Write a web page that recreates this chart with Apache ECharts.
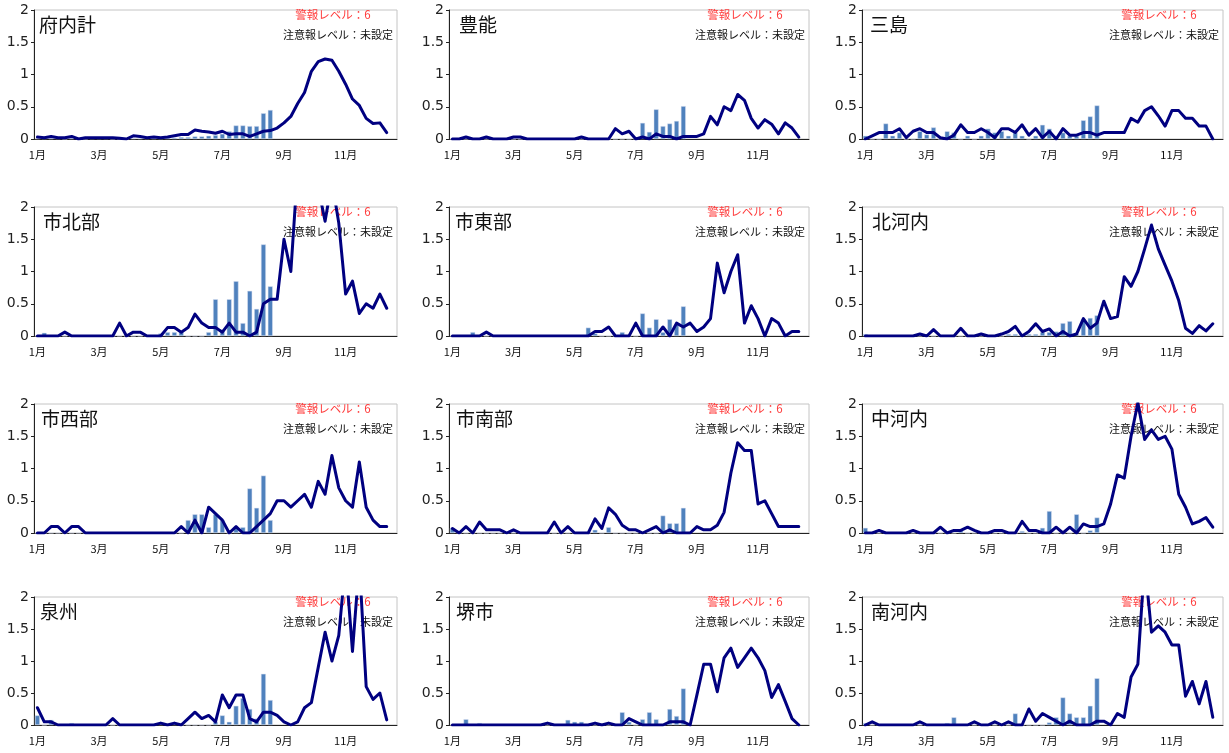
<!DOCTYPE html>
<html><head><meta charset="utf-8">
<script src="https://cdn.jsdelivr.net/npm/echarts@6/dist/echarts.min.js"></script>
<style>html,body{margin:0;padding:0;background:#fff}#c{width:1229px;height:753px}</style>
</head><body><div id="c"></div>
<script>
// ---- categories / tick labels ----
const weeks = ['1','2','3','4','5','6','7','8','9','10','11','12','13','14','15','16','17','18','19','20','21','22','23','24','25','26','27','28','29','30','31','32','33','34','35','36','37','38','39','40','41','42','43','44','45','46','47','48','49','50','51','52','53'];
const monthTickIndex = [0, 9, 18, 27, 36, 45];
const monthTickLabels = ['1月', '3月', '5月', '7月', '9月', '11月'];
const regionNames = ['府内計', '豊能', '三島', '市北部', '市東部', '北河内', '市西部', '市南部', '中河内', '泉州', '堺市', '南河内'];
const alarmText = '警報レベル：6';
const cautionText = '注意報レベル：未設定';

// ---- line (full-year) values ----
const lineFunaikei = [0.03,0.02,0.04,0.02,0.02,0.04,0.0,0.02,0.02,0.02,0.02,0.02,0.01,0.0,0.05,0.04,0.02,0.03,0.02,0.03,0.05,0.07,0.07,0.14,0.12,0.11,0.09,0.12,0.07,0.08,0.08,0.04,0.08,0.12,0.13,0.17,0.25,0.35,0.55,0.72,1.05,1.2,1.24,1.22,1.05,0.85,0.62,0.52,0.32,0.24,0.25,0.1];
const lineToyono = [0,0,0.03,0,0,0.03,0,0,0,0.03,0.03,0,0,0,0,0,0,0,0,0.03,0,0,0,0,0.16,0.08,0.12,0,0.03,0,0.08,0.04,0.04,0,0.04,0.04,0.04,0.08,0.35,0.22,0.5,0.44,0.69,0.6,0.32,0.17,0.3,0.23,0.08,0.25,0.17,0.03];
const lineMishima = [0,0.05,0.1,0.1,0.1,0.16,0.02,0.12,0.16,0.1,0.1,0.02,0,0.06,0.22,0.1,0.1,0.16,0.1,0.02,0.16,0.16,0.1,0.22,0.06,0.16,0.02,0.12,0,0.16,0.06,0.06,0.1,0.1,0.06,0.1,0.1,0.1,0.1,0.32,0.26,0.44,0.5,0.36,0.2,0.44,0.44,0.32,0.32,0.2,0.2,0];
const lineShihokubu = [0,0,0,0,0.06,0,0,0,0,0,0,0,0.2,0,0.06,0.06,0,0,0,0.13,0.13,0.06,0.13,0.34,0.2,0.13,0.13,0.06,0.2,0.06,0.06,0,0.06,0.5,0.57,0.57,1.5,1.0,2.6,2.9,2.8,2.3,1.78,2.4,1.75,0.65,0.85,0.35,0.5,0.43,0.65,0.43];
const lineShitobu = [0,0,0,0,0,0.06,0,0,0,0,0,0,0,0,0,0,0,0,0,0,0,0.07,0.07,0.14,0,0,0,0.2,0,0,0,0.14,0,0.2,0.14,0.2,0.07,0.14,0.27,1.13,0.67,1.0,1.26,0.2,0.47,0.27,0,0.27,0.2,0,0.07,0.07];
const lineKitakawachi = [0,0,0,0,0,0,0,0,0.03,0,0.1,0,0,0,0.12,0,0,0.03,0,0,0.03,0.07,0.15,0,0.07,0.19,0.07,0.11,0,0.07,0,0.03,0.27,0.12,0.2,0.54,0.27,0.3,0.92,0.77,1.0,1.35,1.72,1.35,1.1,0.85,0.55,0.12,0.04,0.16,0.08,0.19];
const lineShiseibu = [0,0,0.1,0.1,0,0.1,0.1,0,0,0,0,0,0,0,0,0,0,0,0,0,0,0.1,0,0.2,0,0.4,0.3,0.2,0,0.1,0,0,0.1,0.2,0.3,0.5,0.5,0.4,0.5,0.6,0.4,0.8,0.6,1.2,0.7,0.5,0.4,1.1,0.4,0.2,0.1,0.1];
const lineShinanbu = [0.07,0,0.1,0,0.17,0.05,0.05,0.05,0,0.05,0,0,0,0,0,0.17,0,0.1,0,0,0,0.22,0.07,0.39,0.29,0.12,0.05,0.05,0,0.05,0.1,0,0.05,0,0,0,0.1,0.05,0.05,0.12,0.32,0.93,1.4,1.28,1.28,0.45,0.5,0.3,0.1,0.1,0.1,0.1];
const lineNakakawachi = [0,0,0.04,0,0,0,0,0.04,0,0,0,0.09,0,0.04,0.04,0.09,0.04,0,0,0.04,0.04,0,0,0.18,0.04,0.04,0,0,0.09,0,0.09,0,0.14,0.1,0.1,0.14,0.45,0.9,0.85,1.5,2.02,1.45,1.6,1.45,1.5,1.3,0.6,0.4,0.14,0.18,0.24,0.09];
const lineSenshu = [0.27,0.05,0.05,0,0,0,0,0,0,0,0,0.1,0,0,0,0,0,0,0.03,0,0.03,0,0.1,0.2,0.1,0.15,0.05,0.47,0.27,0.47,0.47,0.1,0.05,0.2,0.2,0.15,0.05,0,0.05,0.27,0.35,0.9,1.45,1.0,1.4,2.55,1.15,2.55,0.6,0.4,0.5,0.08];
const lineSakai = [0,0,0,0,0,0,0,0,0,0,0,0,0,0,0.03,0,0,0,0,0,0,0.03,0,0.03,0,0,0.1,0.05,0,0,0,0,0.05,0.05,0.05,0,0.47,0.95,0.95,0.52,1.05,1.2,0.9,1.05,1.2,1.05,0.85,0.43,0.63,0.37,0.1,0];
const lineMinamikawachi = [0,0.05,0,0,0,0,0,0,0.05,0,0,0,0,0,0,0,0.05,0,0,0.05,0,0.05,0,0,0.25,0.06,0.18,0.12,0.06,0,0.06,0,0,0,0.06,0.06,0,0.18,0.12,0.75,0.95,2.55,1.45,1.55,1.45,1.25,1.25,0.45,0.68,0.33,0.68,0.12];

// ---- bar (current-year) values ----
const barFunaikei = [0.01,0.01,0.01,0.01,0,0.01,0,0,0.01,0.01,0.01,0,0,0,0.01,0.01,0.01,0.01,0.01,0.02,0.02,0.03,0.03,0.04,0.04,0.05,0.06,0.08,0.12,0.21,0.21,0.2,0.2,0.4,0.45];
const barToyono = [0,0,0,0,0,0,0,0,0,0,0,0,0,0,0,0,0,0,0,0,0,0,0,0,0,0,0,0,0.25,0.11,0.46,0.2,0.24,0.28,0.51];
const barMishima = [0.05,0,0,0.24,0.05,0.1,0,0,0.12,0.07,0.18,0,0.12,0.1,0,0.05,0,0.05,0.16,0.1,0.12,0.05,0.1,0.05,0,0.05,0.22,0.16,0.05,0.1,0.05,0.05,0.29,0.35,0.52];
const barShihokubu = [0,0.05,0,0,0,0,0,0,0,0,0,0,0,0,0,0,0,0,0.04,0.06,0.06,0.06,0,0,0,0.06,0.57,0.1,0.57,0.85,0.2,0.7,0.42,1.42,0.77];
const barShitobu = [0,0,0,0.06,0,0,0,0,0,0,0,0,0,0,0,0,0,0,0,0,0.13,0.04,0,0,0,0.06,0,0,0.35,0.13,0.26,0.06,0.26,0.18,0.46];
const barKitakawachi = [0.03,0,0,0,0,0,0,0,0,0,0,0,0,0,0,0,0,0,0,0,0,0.03,0.03,0.03,0.03,0.03,0.06,0.06,0.07,0.2,0.23,0.03,0.26,0.28,0.32];
const barShiseibu = [0,0,0,0,0,0,0,0,0,0,0,0,0,0,0,0,0,0,0,0,0,0,0.2,0.29,0.29,0.09,0.29,0.2,0,0.09,0.09,0.69,0.39,0.89,0.2];
const barShinanbu = [0.08,0,0,0,0,0,0,0,0,0,0,0,0,0,0,0,0,0,0,0,0,0.05,0,0.09,0,0,0,0,0,0,0,0.27,0.15,0.15,0.39];
const barNakakawachi = [0.08,0,0,0,0,0,0,0,0,0,0,0,0,0,0.04,0,0,0,0,0,0,0,0,0.03,0,0,0.08,0.34,0,0,0,0.29,0,0.04,0.24];
const barSenshu = [0.15,0,0.08,0,0,0.03,0,0,0,0,0,0,0,0,0,0,0,0,0.03,0,0.03,0,0,0,0,0,0.05,0.15,0.05,0.3,0.42,0.25,0.1,0.8,0.39];
const barSakai = [0,0,0.09,0,0.03,0,0,0,0,0,0,0,0,0,0,0,0,0.08,0.05,0.05,0,0,0,0,0,0.2,0.05,0,0.09,0.2,0.09,0,0.25,0.14,0.57];
const barMinamikawachi = [0.03,0,0,0,0,0,0,0,0,0,0,0,0.03,0.12,0,0,0,0,0,0,0,0,0.18,0,0,0,0,0.04,0.12,0.43,0.18,0.12,0.12,0.3,0.73];

const lineSets = [lineFunaikei, lineToyono, lineMishima, lineShihokubu, lineShitobu, lineKitakawachi, lineShiseibu, lineShinanbu, lineNakakawachi, lineSenshu, lineSakai, lineMinamikawachi];
const barSets = [barFunaikei, barToyono, barMishima, barShihokubu, barShitobu, barKitakawachi, barShiseibu, barShinanbu, barNakakawachi, barSenshu, barSakai, barMinamikawachi];

// ---- layout ----
const colLeft = [34, 449, 862];
const colWidth = [363, 360, 361];
const rowTop = [10, 207, 404, 597];
const rowHeight = [129, 129, 129, 128];
const titleX = [39, 459, 870, 43, 455, 872, 41, 456, 871, 40, 456, 871];

const JP = '"Noto Sans CJK JP", sans-serif';
const grids = [], xAxes = [], yAxes = [], series = [], graphics = [];

for (let k = 0; k < 12; k++) {
  const r = Math.floor(k / 3), c = k % 3;
  const left = colLeft[c], top = rowTop[r], w = colWidth[c], h = rowHeight[r];
  grids.push({left: left, top: top, width: w, height: h, show: true, borderColor: '#c4c4c4', borderWidth: 1, containLabel: false});
  xAxes.push({
    type: 'category', gridIndex: k, data: weeks, boundaryGap: true,
    axisLine: {lineStyle: {color: '#222', width: 1}},
    axisTick: {inside: true, length: 4, interval: 0, lineStyle: {color: '#222'}},
    axisLabel: {
      interval: function (idx) { return monthTickIndex.indexOf(idx) >= 0; },
      formatter: function (v, idx) { const p = monthTickIndex.indexOf(idx); return p >= 0 ? monthTickLabels[p] : ''; },
      fontSize: 11, color: '#111', margin: 10, fontFamily: JP
    },
    splitLine: {show: false}
  });
  yAxes.push({
    type: 'value', gridIndex: k, min: 0, max: 2, interval: 0.5,
    axisLine: {show: true, lineStyle: {color: '#222', width: 1}},
    axisTick: {show: true, length: 3, lineStyle: {color: '#222'}},
    splitLine: {show: false},
    axisLabel: {fontSize: 14, color: '#222', margin: 5, fontFamily: '"DejaVu Sans", sans-serif'}
  });
  series.push({
    type: 'bar', xAxisIndex: k, yAxisIndex: k, data: barSets[k], barWidth: '72%',
    itemStyle: {color: '#4f81bd', borderColor: '#dce3f3', borderWidth: 0.5}, z: 2
  });
  series.push({
    type: 'line', xAxisIndex: k, yAxisIndex: k, data: lineSets[k], symbol: 'none', clip: true,
    lineStyle: {color: '#000080', width: 3, join: 'round', cap: 'round'}, z: 3
  });
  graphics.push({type: 'text', x: titleX[k], y: top + 15, z: 1,
    style: {text: regionNames[k], fill: '#111', fontSize: 19, fontFamily: JP, align: 'left', verticalAlign: 'middle', textAlign: 'left', textVerticalAlign: 'middle'}});
  graphics.push({type: 'text', x: left + w - 64, y: top + 5, z: 1,
    style: {text: alarmText, fill: '#ff3b3b', fontSize: 11.5, fontFamily: JP, align: 'center', verticalAlign: 'middle', textAlign: 'center', textVerticalAlign: 'middle'}});
  graphics.push({type: 'text', x: left + w - 4, y: top + 25, z: 1,
    style: {text: cautionText, fill: '#111', fontSize: 11, fontFamily: JP, align: 'right', verticalAlign: 'middle', textAlign: 'right', textVerticalAlign: 'middle'}});
}

const chart = echarts.init(document.getElementById('c'), null, {renderer: 'canvas'});
chart.setOption({
  animation: false,
  backgroundColor: '#fff',
  grid: grids, xAxis: xAxes, yAxis: yAxes, series: series,
  graphic: {elements: graphics}
});
</script>
</body></html>
